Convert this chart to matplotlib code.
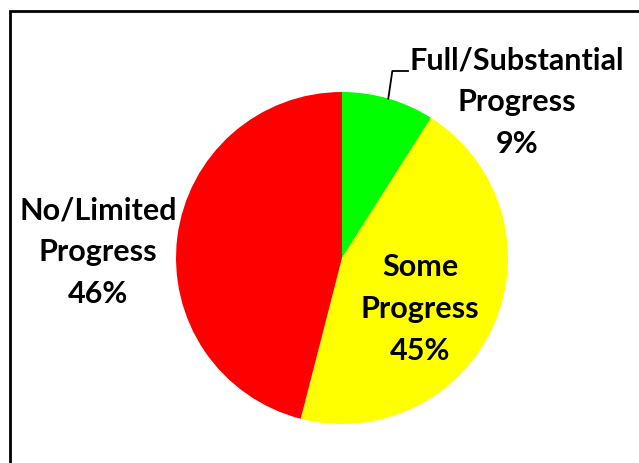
import numpy as np
import matplotlib
matplotlib.use("Agg")
import matplotlib.pyplot as plt
from matplotlib.patches import Rectangle

labels = ["Full/Substantial\nProgress", "Some\nProgress", "No/Limited\nProgress"]
shares = [9, 45, 46]
colors = ["#00FF00", "#FFFF00", "#FF0000"]

W, H = 639, 463
fig = plt.figure(figsize=(W / 100, H / 100), dpi=100)
ax = fig.add_axes([0, 0, 1, 1])

cx, cy, r = 342, H - 258, 166
wedges, _ = ax.pie(shares, colors=colors, startangle=90, counterclock=False,
                   center=(cx, cy), radius=r, frame=True)
ax.set_xlim(0, W)
ax.set_ylim(0, H)
ax.axis("off")

# frame around the chart area (cut off at right and bottom)
ax.add_patch(Rectangle((10, -20), W + 20, H - 11 + 20, fill=False,
                       edgecolor="black", linewidth=2))

font = dict(family=["Lato", "DejaVu Sans"], fontweight="bold", fontsize=22,
            ha="center", va="center", linespacing=1.6)

texts = [f"{lab}\n{v}%" for lab, v in zip(labels, shares)]
ax.text(517, H - 102, texts[0], **font)
ax.text(420, H - 309, texts[1], **font)
ax.text(98, H - 252, texts[2], **font)

# leader line for the small slice
g = wedges[0]
mid = np.deg2rad((g.theta1 + g.theta2) / 2)
px, py = cx + r * np.cos(mid), cy + r * np.sin(mid)
ax.plot([px, px + 4, 408], [py, H - 71, H - 71], color="black", linewidth=1.3)

fig.savefig("out.png", dpi=100)
